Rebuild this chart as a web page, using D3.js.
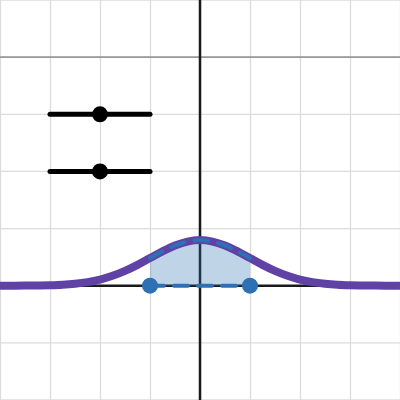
<!DOCTYPE html>
<html>
<head>
<meta charset="utf-8">
<script src="https://cdn.jsdelivr.net/npm/d3@7"></script>
<style>
  html, body { margin: 0; padding: 0; background: #fff; }
  svg { display: block; }
</style>
</head>
<body>
<div id="chart"></div>
<script>
// curve (symmetric bump, values in graph units)
var curveX = [-4, -3.5, -3, -2.75, -2.5, -2.25, -2, -1.75, -1.5, -1.25, -1, -0.75, -0.5, -0.25, 0,
              0.25, 0.5, 0.75, 1, 1.25, 1.5, 1.75, 2, 2.25, 2.5, 2.75, 3, 3.5, 4];
var curveY = [0, 0.002, 0.009, 0.018, 0.035, 0.063, 0.108, 0.173, 0.259, 0.365, 0.484, 0.602, 0.704, 0.773, 0.798,
              0.773, 0.704, 0.602, 0.484, 0.365, 0.259, 0.173, 0.108, 0.063, 0.035, 0.018, 0.009, 0.002, 0];
// shaded interval
var shadeFrom = -1, shadeTo = 1;
// slider rows (y value, range, handle)
var sliderY = [3, 2];
var sliderRange = [-3, -1];
var sliderHandle = [-2, -2];
// darker horizontal line
var refLineY = 4;
var xTicks = [-4, -3, -2, -1, 0, 1, 2, 3, 4];
var yTicks = [-2, -1, 0, 1, 2, 3, 4, 5];

(function autoexecute() {
  var width = 400, height = 400;

  var svg = d3.select("#chart")
    .append("svg")
      .attr("width", width)
      .attr("height", height);

  var x = d3.scaleLinear().domain([-4, 4]).range([0, width]);
  var y = d3.scaleLinear().domain([-2, 5]).range([height, 0]);

  // grid
  svg.append("g")
    .selectAll("line")
    .data(xTicks)
    .join("line")
      .attr("x1", d => x(d) + 0.5).attr("x2", d => x(d) + 0.5)
      .attr("y1", 0).attr("y2", height)
      .attr("stroke", "#dcdcdc")
      .attr("stroke-width", 1.3);

  svg.append("g")
    .selectAll("line")
    .data(yTicks)
    .join("line")
      .attr("x1", 0).attr("x2", width)
      .attr("y1", d => y(d)).attr("y2", d => y(d))
      .attr("stroke", "#dcdcdc")
      .attr("stroke-width", 1.3);

  svg.append("line")
    .attr("x1", 0).attr("x2", width)
    .attr("y1", y(refLineY)).attr("y2", y(refLineY))
    .attr("stroke", "#999")
    .attr("stroke-width", 1.6);

  // axes
  svg.append("line")
    .attr("x1", 0).attr("x2", width)
    .attr("y1", y(0)).attr("y2", y(0))
    .attr("stroke", "#1a1a1a")
    .attr("stroke-width", 2.5);
  svg.append("line")
    .attr("x1", x(0)).attr("x2", x(0))
    .attr("y1", 0).attr("y2", height)
    .attr("stroke", "#1a1a1a")
    .attr("stroke-width", 2.5);

  var pts = curveX.map((v, i) => ({x: v, y: curveY[i]}));
  var inside = pts.filter(d => d.x >= shadeFrom && d.x <= shadeTo);

  // shaded area
  svg.append("path")
    .datum(inside)
    .attr("fill", "#2d70b3")
    .attr("fill-opacity", 0.3)
    .attr("d", d3.area()
      .x(d => x(d.x))
      .y0(y(0))
      .y1(d => y(d.y))
      .curve(d3.curveMonotoneX));

  // main curve
  svg.append("path")
    .datum(pts)
    .attr("fill", "none")
    .attr("stroke", "#6042a6")
    .attr("stroke-width", 8)
    .attr("d", d3.line()
      .x(d => x(d.x))
      .y(d => y(d.y))
      .curve(d3.curveMonotoneX));

  // dashed boundary of shaded region
  svg.append("path")
    .datum(inside)
    .attr("fill", "none")
    .attr("stroke", "#2d70b3")
    .attr("stroke-width", 4)
    .attr("stroke-linecap", "round")
    .attr("stroke-dasharray", "14,10")
    .attr("d", d3.line()
      .x(d => x(d.x))
      .y(d => y(d.y))
      .curve(d3.curveMonotoneX));

  svg.append("line")
    .attr("x1", x(shadeFrom)).attr("x2", x(shadeTo))
    .attr("y1", y(0)).attr("y2", y(0))
    .attr("stroke", "#2d70b3")
    .attr("stroke-width", 4)
    .attr("stroke-linecap", "round")
    .attr("stroke-dasharray", "14,10");

  svg.append("g")
    .selectAll("circle")
    .data([shadeFrom, shadeTo])
    .join("circle")
      .attr("cx", d => x(d))
      .attr("cy", y(0))
      .attr("r", 8)
      .attr("fill", "#2d70b3");

  // slider rows
  var rows = svg.append("g")
    .selectAll("g")
    .data(sliderY)
    .join("g");

  rows.append("line")
    .attr("x1", x(sliderRange[0])).attr("x2", x(sliderRange[1]))
    .attr("y1", d => y(d)).attr("y2", d => y(d))
    .attr("stroke", "#000")
    .attr("stroke-width", 5)
    .attr("stroke-linecap", "round");

  rows.append("circle")
    .attr("cx", (d, i) => x(sliderHandle[i]))
    .attr("cy", d => y(d))
    .attr("r", 8)
    .attr("fill", "#000");
})();
</script>
</body>
</html>
